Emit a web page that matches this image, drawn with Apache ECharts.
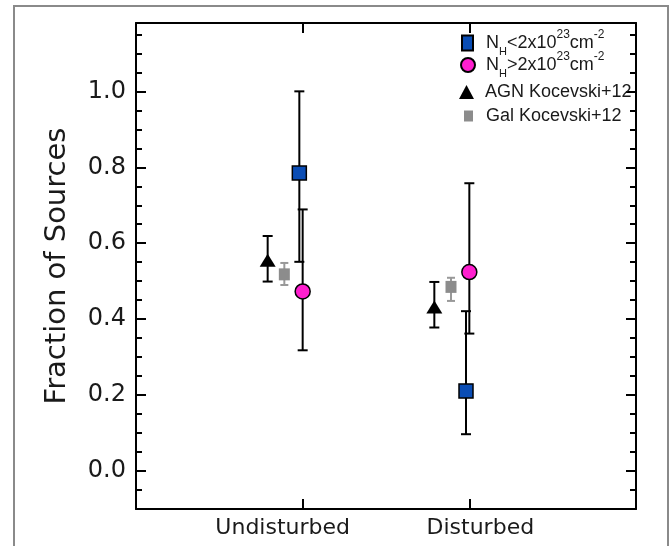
<!DOCTYPE html>
<html>
<head>
<meta charset="utf-8">
<script src="https://cdn.jsdelivr.net/npm/echarts@6/dist/echarts.min.js"></script>
<style>html,body{margin:0;padding:0;background:#fff;}#c{width:672px;height:546px;}</style>
</head>
<body>
<div id="c"></div>
<script>
// ---- data ----
const categories = ['Undisturbed', 'Disturbed'];
const categoryX = [1, 2];

const nhLowName = 'NH<2e23';
const nhLowVal = [0.785, 0.211];
const nhLowLo  = [0.551, 0.097];
const nhLowHi  = [1.000, 0.421];

const nhHighName = 'NH>2e23';
const nhHighVal = [0.473, 0.524];
const nhHighLo  = [0.318, 0.362];
const nhHighHi  = [0.689, 0.758];

const agnName = 'AGN Kocevski+12';
const agnVal = [0.555, 0.432];
const agnLo  = [0.499, 0.378];
const agnHi  = [0.619, 0.498];

const galName = 'Gal Kocevski+12';
const galVal = [0.518, 0.485];
const galLo  = [0.490, 0.448];
const galHi  = [0.548, 0.509];

const yMajorTicks = [0.0, 0.2, 0.4, 0.6, 0.8, 1.0];
const yMinorTicks = [-0.05, 0.05, 0.1, 0.15, 0.25, 0.3, 0.35, 0.45, 0.5, 0.55, 0.65, 0.7, 0.75, 0.85, 0.9, 0.95, 1.05, 1.1, 1.15];

// ---- style / layout constants ----
const offsets = { nhLow: -0.02, nhHigh: 0.0, agn: -0.21, gal: -0.11 };
const FONT = 'DejaVu Sans';
const LFONT = 'Liberation Sans';
const TXT = '#1a1a1a';

function pts(off, v) { return categoryX.map((x, i) => [x + off, v[i]]); }
function errs(off, lo, hi) { return categoryX.map((x, i) => [x + off, lo[i], hi[i]]); }

function errRenderer(capHalf, color) {
  return function (params, api) {
    const x = api.value(0), lo = api.value(1), hi = api.value(2);
    const a = api.coord([x, lo]), b = api.coord([x, hi]);
    const style = { stroke: color, lineWidth: 2, fill: null };
    return { type: 'group', children: [
      { type: 'line', shape: { x1: a[0], y1: a[1], x2: b[0], y2: b[1] }, style },
      { type: 'line', shape: { x1: a[0] - capHalf, y1: a[1], x2: a[0] + capHalf, y2: a[1] }, style },
      { type: 'line', shape: { x1: b[0] - capHalf, y1: b[1], x2: b[0] + capHalf, y2: b[1] }, style }
    ]};
  };
}

const legendRich = {
  t:   { fontFamily: LFONT, fontSize: 18, color: TXT, verticalAlign: 'middle', lineHeight: 28 },
  sub: { fontFamily: LFONT, fontSize: 11, color: TXT, verticalAlign: 'bottom', lineHeight: 28 },
  sup: { fontFamily: LFONT, fontSize: 12, color: TXT, verticalAlign: 'top', lineHeight: 28 }
};
function legendFmt(name) {
  if (name === nhLowName) return '{t|N}{sub|H}{t|<2x10}{sup|23}{t|cm}{sup|-2}';
  if (name === nhHighName) return '{t|N}{sub|H}{t|>2x10}{sup|23}{t|cm}{sup|-2}';
  return '{t|' + name + '}';
}
function mkLegend(name, left, top, w, h, padLeft) {
  return {
    data: [name], left: left, top: top, padding: 0, itemWidth: w, itemHeight: h,
    selectedMode: false, formatter: legendFmt,
    textStyle: { fontFamily: LFONT, fontSize: 18, color: TXT, rich: legendRich, padding: [0, 0, 0, padLeft] }
  };
}

function yAxisDef(pos, ticks, len, labels, showLine) {
  return {
    type: 'value', position: pos, min: -0.1, max: 1.18,
    axisLine: { show: showLine, onZero: false, lineStyle: { color: '#000', width: 2 } },
    axisTick: { show: true, inside: true, length: len, customValues: ticks, lineStyle: { color: '#000', width: 2 } },
    axisLabel: labels ? { show: true, customValues: labels, margin: 10, formatter: v => v.toFixed(1),
      fontFamily: FONT, fontSize: 24, color: TXT } : { show: false },
    splitLine: { show: false }
  };
}

function xAxisDef(pos, withLabels) {
  return {
    type: 'value', position: pos, min: 0, max: 3,
    axisLine: { show: true, onZero: false, lineStyle: { color: '#000', width: 2 } },
    axisTick: { inside: true, length: 10, customValues: categoryX, lineStyle: { color: '#000', width: 2 } },
    axisLabel: withLabels ? { customValues: categoryX, margin: 8,
      formatter: v => { const i = categoryX.indexOf(v); return i === 0 ? '{u|' + categories[0] + '}' : '{d|' + categories[1] + '}'; },
      rich: {
        u: { fontFamily: FONT, fontSize: 22, color: TXT, padding: [0, 40, 0, 0] },
        d: { fontFamily: FONT, fontSize: 22, color: TXT, padding: [0, 0, 0, 22] }
      } } : { show: false },
    splitLine: { show: false }
  };
}

const chart = echarts.init(document.getElementById('c'), null, { renderer: 'canvas' });
chart.setOption({
  animation: false,
  backgroundColor: '#fff',
  grid: { left: 136, top: 23, width: 500, height: 486 },
  graphic: [
    { type: 'rect', shape: { x: 14, y: 6, width: 654, height: 620 }, style: { fill: null, stroke: '#8a8a8a', lineWidth: 2 }, z: -1 }
  ],
  legend: [
    mkLegend(nhLowName, 461, 29, 11, 15, 8),
    mkLegend(nhHighName, 460, 51, 14, 14, 6),
    mkLegend(agnName, 459, 83, 15, 14, 6),
    mkLegend(galName, 464, 107, 9, 11, 8)
  ],
  xAxis: [ xAxisDef('bottom', true), xAxisDef('top', false) ],
  yAxis: [
    Object.assign(yAxisDef('left', yMajorTicks, 10, yMajorTicks, true), {
      name: 'Fraction of Sources', nameLocation: 'middle', nameRotate: 90, nameGap: 64,
      nameTextStyle: { fontFamily: FONT, fontSize: 29, color: TXT }
    }),
    yAxisDef('left', yMinorTicks, 6, null, false),
    yAxisDef('right', yMajorTicks, 10, null, true),
    yAxisDef('right', yMinorTicks, 6, null, false)
  ],
  series: [
    { type: 'custom', name: 'err-agn', renderItem: errRenderer(5, '#000'), data: errs(offsets.agn, agnLo, agnHi), z: 2, encode: { x: 0, y: [1, 2] } },
    { type: 'custom', name: 'err-gal', renderItem: errRenderer(4, '#999'), data: errs(offsets.gal, galLo, galHi), z: 2, encode: { x: 0, y: [1, 2] } },
    { type: 'custom', name: 'err-nhlow', renderItem: errRenderer(5, '#000'), data: errs(offsets.nhLow, nhLowLo, nhLowHi), z: 2, encode: { x: 0, y: [1, 2] } },
    { type: 'custom', name: 'err-nhhigh', renderItem: errRenderer(5, '#000'), data: errs(offsets.nhHigh, nhHighLo, nhHighHi), z: 2, encode: { x: 0, y: [1, 2] } },
    { type: 'scatter', name: nhLowName, symbol: 'rect', symbolSize: [14, 14], data: pts(offsets.nhLow, nhLowVal),
      itemStyle: { color: '#0a4db5', borderColor: '#000', borderWidth: 1.5, opacity: 1 }, z: 5 },
    { type: 'scatter', name: nhHighName, symbol: 'circle', symbolSize: 15, data: pts(offsets.nhHigh, nhHighVal),
      itemStyle: { color: '#ff1fcf', borderColor: '#000', borderWidth: 1.5, opacity: 1 }, z: 5 },
    { type: 'scatter', name: agnName, symbol: 'triangle', symbolSize: [16, 13], data: pts(offsets.agn, agnVal),
      itemStyle: { color: '#000', opacity: 1 }, z: 5 },
    { type: 'scatter', name: galName, symbol: 'rect', symbolSize: [11, 12], data: pts(offsets.gal, galVal),
      itemStyle: { color: '#8c8c8c', opacity: 1 }, z: 5 }
  ]
});
</script>
</body>
</html>
